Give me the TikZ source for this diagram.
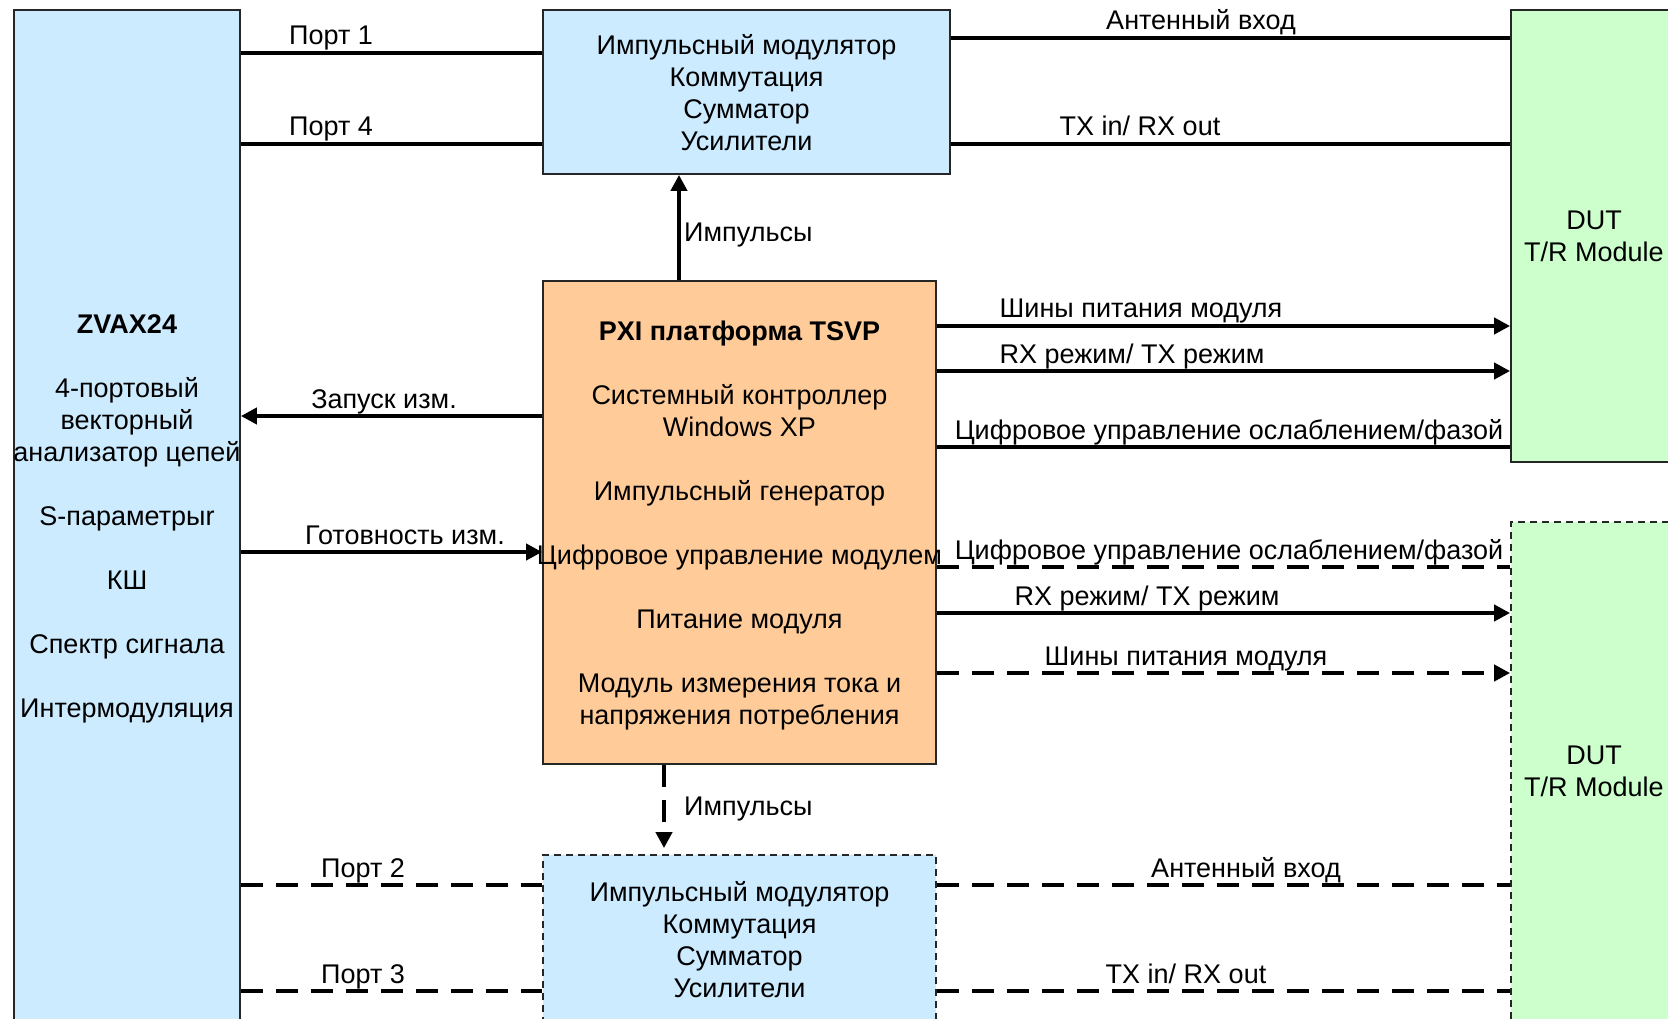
\documentclass[tikz,border=0pt]{standalone}
\usepackage{fontspec}
\setmainfont{Liberation Sans}
\usetikzlibrary{arrows.meta}
\definecolor{vnablue}{RGB}{204,235,255}
\definecolor{pxiorange}{RGB}{255,204,153}
\definecolor{dutgreen}{RGB}{204,255,204}
\begin{document}
\begin{tikzpicture}[x=1pt,y=-1pt,
  every node/.style={font=\fontsize{27}{32}\selectfont},
  blk/.style={draw=black!85, line width=1.8pt, inner sep=0pt, anchor=center},
  dblk/.style={blk, dash pattern=on 7pt off 5pt},
  txt/.style={inner sep=0pt, align=center, yshift=-3pt},
  stxt/.style={inner sep=0pt, align=center, yshift=-0.5pt},
  conn/.style={line width=4.6pt},
  dconn/.style={conn, dash pattern=on 22pt off 13pt},
  arr/.style={-{Triangle[length=16pt,width=16pt]}},
  lbl/.style={inner sep=0pt, anchor=base}
]
\useasboundingbox (0,0) rectangle (1668,1019);
\clip (0,0) rectangle (1668,1019);
\fill[white] (0,0) rectangle (1668,1019);

% boxes
\node[blk, fill=vnablue, minimum width=226pt, minimum height=1012pt] (vna) at (127,516) {};
\node[blk, fill=vnablue, minimum width=407pt, minimum height=164pt] (mod1) at (746.5,92) {};
\node[blk, fill=pxiorange, minimum width=393pt, minimum height=483pt] (pxi) at (739.5,522.5) {};
\node[dblk, fill=vnablue, minimum width=393pt, minimum height=168pt] (mod2) at (739.5,939) {};
\node[blk, fill=dutgreen, minimum width=166pt, minimum height=452pt] (dut1) at (1594,236) {};
\node[dblk, fill=dutgreen, minimum width=166pt, minimum height=498pt] (dut2) at (1594,771) {};

% box texts
\node[txt] (vnat) at (vna.center) {\textbf{ZVAX24}\\[32pt]4-портовый\\векторный\\анализатор цепей\\[32pt]S-параметрыr\\[32pt]КШ\\[32pt]Спектр сигнала\\[32pt]Интермодуляция};
\node[stxt] (mod1t) at (mod1.center) {Импульсный модулятор\\Коммутация\\Сумматор\\Усилители};
\node[txt] (pxit) at (pxi.center) {\textbf{PXI платформа TSVP}\\[32pt]Системный контроллер\\Windows XP\\[32pt]Импульсный генератор\\[32pt]Цифровое управление модулем\\[32pt]Питание модуля\\[32pt]Модуль измерения тока и\\напряжения потребления};
\node[stxt] (mod2t) at (mod2.center) {Импульсный модулятор\\Коммутация\\Сумматор\\Усилители};
\node[stxt] (dut1t) at (dut1.center) {DUT\\T/R Module};
\node[stxt] (dut2t) at (dut2.center) {DUT\\T/R Module};

% levels
\coordinate (yP1) at (0,53);
\coordinate (yP4) at (0,144);
\coordinate (yA1) at (0,38);
\coordinate (yT1) at (0,144);
\coordinate (yZap) at (0,416);
\coordinate (yGot) at (0,552);
\coordinate (yS1) at (0,326);
\coordinate (yR1) at (0,371);
\coordinate (yD1) at (0,447);
\coordinate (yD2) at (0,567);
\coordinate (yR2) at (0,613);
\coordinate (yS2) at (0,673);
\coordinate (yP2) at (0,885);
\coordinate (yP3) at (0,991);
\coordinate (xI1) at (679,0);
\coordinate (xI2) at (664,0);

% connectors
\draw[conn] (vna.east |- yP1) -- (mod1.west |- yP1);
\draw[conn] (vna.east |- yP4) -- (mod1.west |- yP4);
\draw[conn] (mod1.east |- yA1) -- (dut1.west |- yA1);
\draw[conn] (mod1.east |- yT1) -- (dut1.west |- yT1);
\draw[conn,arr] (pxi.north -| xI1) -- (mod1.south -| xI1);
\draw[conn,arr] (pxi.west |- yZap) -- (vna.east |- yZap);
\draw[conn,arr] (vna.east |- yGot) -- (pxi.west |- yGot);
\draw[conn,arr] (pxi.east |- yS1) -- (dut1.west |- yS1);
\draw[conn,arr] (pxi.east |- yR1) -- (dut1.west |- yR1);
\draw[conn] (pxi.east |- yD1) -- (dut1.west |- yD1);
\draw[dconn] (pxi.east |- yD2) -- (dut2.west |- yD2);
\draw[conn,arr] (pxi.east |- yR2) -- (dut2.west |- yR2);
\draw[dconn,arr] (pxi.east |- yS2) -- (dut2.west |- yS2);
\draw[dconn,arr,shorten >=6pt] (pxi.south -| xI2) -- (mod2.north -| xI2);
\draw[dconn] (vna.east |- yP2) -- (mod2.west |- yP2);
\draw[dconn] (vna.east |- yP3) -- (mod2.west |- yP3);
\draw[dconn] (mod2.east |- yP2) -- (dut2.west |- yP2);
\draw[dconn] (mod2.east |- yP3) -- (dut2.west |- yP3);

% labels
\node[lbl] (lP1) at (331,45) {Порт 1};
\node[lbl] (lP4) at (331,136) {Порт 4};
\node[lbl] (lA1) at (1201,30) {Антенный вход};
\node[lbl] (lT1) at (1140,136) {TX in/ RX out};
\node[lbl, anchor=base west] (lI1) at (684,242) {Импульсы};
\node[lbl] (lZap) at (384,408) {Запуск изм.};
\node[lbl] (lGot) at (405,544) {Готовность изм.};
\node[lbl] (lS1) at (1141,317) {Шины питания модуля};
\node[lbl] (lR1) at (1132,363) {RX режим/ TX режим};
\node[lbl] (lD1) at (1229,439) {Цифровое управление ослаблением/фазой};
\node[lbl] (lD2) at (1229,559) {Цифровое управление ослаблением/фазой};
\node[lbl] (lR2) at (1147,605) {RX режим/ TX режим};
\node[lbl] (lS2) at (1186,665) {Шины питания модуля};
\node[lbl, anchor=base west] (lI2) at (684,815) {Импульсы};
\node[lbl] (lP2) at (363,877) {Порт 2};
\node[lbl] (lP3) at (363,983) {Порт 3};
\node[lbl] (lA2) at (1246,877) {Антенный вход};
\node[lbl] (lT2) at (1186,983) {TX in/ RX out};
\end{tikzpicture}
\end{document}
